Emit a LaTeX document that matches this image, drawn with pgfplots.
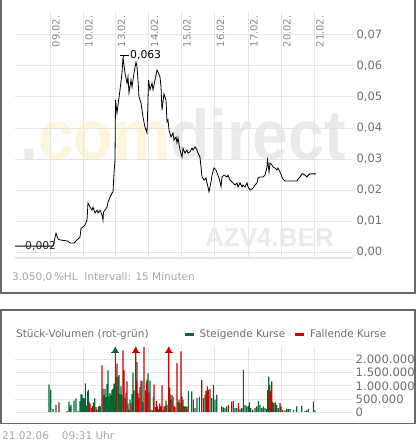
\documentclass[border=0pt]{standalone}
\usepackage{pgfplots}
\usepackage{pgfplotstable}
\pgfplotsset{compat=1.18}
\usepackage{fontspec}
\setmainfont{DejaVu Sans}
\newfontfamily\wmfont{Liberation Sans}
\definecolor{gridc}{RGB}{229,229,229}
\definecolor{framec}{RGB}{105,105,105}
\definecolor{txtgray}{RGB}{110,110,110}
\definecolor{ltgray}{RGB}{165,165,165}
\definecolor{datec}{RGB}{135,135,135}
\definecolor{wmyellow}{RGB}{255,245,220}
\definecolor{wmgray}{RGB}{234,234,234}
\definecolor{volgreen}{RGB}{0,104,52}
\definecolor{volred}{RGB}{204,0,0}

\pgfplotstableread{
t p
15 0.0019
53 0.0019
54 0.0032
56 0.0061
58 0.0042
60 0.0039
68 0.0035
70 0.0029
74 0.0029
77 0.0039
80 0.0048
81 0.0077
83 0.0081
85 0.0087
87 0.0103
88 0.0158
90 0.0145
92 0.0135
93 0.0145
95 0.0126
97 0.0135
98 0.0126
100 0.0135
102 0.0119
103 0.0103
103.5 0.0129
105 0.0135
107 0.0145
108 0.0161
110 0.0177
112 0.0190
113 0.0194
114 0.0255
115 0.0297
115.5 0.0490
117 0.0448
118 0.0474
120 0.0523
122 0.0577
123 0.0629
125 0.0577
127 0.0545
128 0.0565
129 0.0513
131 0.0555
132 0.0532
134 0.0577
136 0.0613
137 0.0597
138 0.0555
139 0.0500
141 0.0481
143 0.0435
145 0.0403
147 0.0384
148 0.0490
148.5 0.0555
150 0.0523
152 0.0545
153 0.0523
155 0.0555
157 0.0587
158 0.0581
160 0.0565
161 0.0532
162 0.0458
164 0.0510
166 0.0490
167 0.0420
168 0.0426
169 0.0394
171 0.0371
173 0.0384
174 0.0361
176 0.0371
177 0.0352
178 0.0368
180 0.0329
182 0.0306
183 0.0335
185 0.0319
187 0.0329
188 0.0319
190 0.0323
192 0.0335
193 0.0329
195 0.0339
197 0.0329
198 0.0319
200 0.0306
201 0.0274
202 0.0242
204 0.0232
206 0.0239
207 0.0223
208 0.0210
209 0.0194
211 0.0226
212 0.0248
214 0.0271
216 0.0265
217 0.0255
219 0.0239
220 0.0226
221 0.0210
222 0.0242
224 0.0248
227 0.0242
228 0.0248
230 0.0232
233 0.0223
235 0.0216
237 0.0223
238 0.0210
240 0.0223
242 0.0210
243 0.0216
245 0.0210
247 0.0223
248 0.0210
250 0.0200
252 0.0203
253 0.0206
255 0.0216
257 0.0223
258 0.0239
260 0.0242
263 0.0242
265 0.0248
267 0.0274
267.5 0.0297
268 0.0287
269 0.0258
270 0.0287
272 0.0281
273 0.0274
275 0.0271
277 0.0265
278 0.0271
280 0.0258
282 0.0242
283 0.0235
285 0.0229
297 0.0229
298 0.0235
300 0.0242
302 0.0252
303 0.0252
305 0.0248
307 0.0242
308 0.0248
310 0.0252
312 0.0252
316 0.0252
}\pricetab

\pgfplotstableread{
t v
49 1050000
50.7 850000
53 140000
56 290000
67 50000
69 410000
70 200000
71 300000
74 450000
76 530000
78 50000
80 430000
81 680000
82 680000
83.3 540000
84.3 530000
85.3 1090000
86.3 260000
87.3 790000
88.3 850000
91.3 160000
93.7 380000
94.7 530000
98.3 230000
99.3 250000
100.3 230000
103 900000
104 660000
105 890000
106 580000
107 1070000
108 1580000
109 600000
110 730000
111 660000
112 850000
113 900000
114 1080000
115.3 3000000
116.3 1330000
118 1350000
119 1400000
120 690000
121 980000
122 660000
125 530000
126 740000
128 330000
129 110000
130 480000
132 700000
133 1500000
134 830000
137 1890000
140 950000
142 1190000
143 390000
145.3 830000
147 1230000
148 1470000
150 1200000
152.3 80000
153.3 580000
155.3 200000
157.3 260000
158.3 140000
163 100000
165 240000
166 450000
167 290000
170 700000
171 480000
173 580000
178 390000
179 480000
180 360000
183 480000
184 240000
185 200000
188.3 810000
191.7 790000
195 160000
197 540000
199.3 600000
203.3 540000
205 660000
210 890000
211.7 540000
215 480000
216.7 660000
221.7 230000
223.3 190000
225 160000
226.7 230000
233.3 440000
235 160000
236.7 160000
240 140000
241.7 160000
243.3 1600000
245 290000
246.7 230000
248.3 260000
250.7 160000
252.7 100000
256.7 230000
258.3 440000
260 290000
261.7 160000
263.3 230000
265 160000
266.7 140000
268.7 1350000
269.7 1040000
272.7 410000
274 350000
276.7 290000
278.3 160000
282.7 100000
286.7 140000
288.3 130000
290 140000
293.3 100000
296.7 230000
301.7 250000
305 60000
306.7 80000
308.3 140000
313.3 410000
315 80000
}\greentab

\pgfplotstableread{
t v
58 30000
59 380000
89 390000
90 330000
92.3 240000
96 200000
97 110000
102 1770000
117 1840000
123 2330000
124 1580000
127 1170000
131 350000
135.7 3000000
136.7 1200000
138 740000
139 550000
141 1200000
144 2460000
146.3 1140000
149 760000
151 110000
154 1050000
156.3 430000
159.7 330000
160.7 230000
162 1020000
164 230000
168.7 3000000
169.7 930000
172 650000
174 240000
175 200000
177 1850000
181 2300000
182 600000
186 240000
187 200000
193.3 480000
201.7 1230000
206 810000
207.3 980000
208.3 850000
213.3 1040000
228.3 290000
231.7 410000
238.3 350000
249.3 390000
255 160000
267.7 850000
270.7 810000
271.7 1170000
275.3 380000
280 350000
281 230000
285 80000
}\redtab

\begin{document}
\begin{tikzpicture}[x=1pt,y=1pt]
\path[use as bounding box] (0,0) rectangle (417,-443);
% watermark
\node[anchor=base west, inner sep=0pt, xscale=0.92] at (20,-160)
  {\wmfont\bfseries\fontsize{70}{70}\selectfont\textcolor{wmgray}{.}\textcolor{wmyellow}{com}\textcolor{wmgray}{direct}};
\node[anchor=base west, inner sep=0pt] at (205,-246)
  {\wmfont\bfseries\fontsize{26}{26}\selectfont\textcolor{wmgray}{AZV4.BER}};

\begin{axis}[
  at={(15pt,-258pt)}, anchor=south west,
  width=338pt, height=246pt, scale only axis,
  xmin=15, xmax=353, ymin=-0.001935, ymax=0.07742,
  scaled ticks=false,
  axis line style={draw=none},
  major tick length=0pt,
  grid=major, major grid style={gridc, line width=1pt},
  xtick={50,83,115.5,148.5,181,214.5,248,281,314},
  xticklabels={09.02.,10.02.,13.02.,14.02.,15.02.,16.02.,17.02.,20.02.,21.02.},
  xticklabel pos=upper,
  xticklabel style={xshift=6pt, rotate=90, anchor=east, font=\fontsize{10}{10}\selectfont, color=datec},
  ytick={0,0.01,0.02,0.03,0.04,0.05,0.06,0.07},
  yticklabels={{0,00},{0,01},{0,02},{0,03},{0,04},{0,05},{0,06},{0,07}},
  yticklabel pos=right,
  yticklabel style={anchor=west, font=\fontsize{11.5}{12}\selectfont, color=txtgray},
]
\addplot[black, line width=0.8pt, mark=none] table[x=t, y=p] {\pricetab};
\draw[gridc, line width=1.6pt] (rel axis cs:0,0) -- (rel axis cs:1,0);
\draw[gridc, line width=1pt] (rel axis cs:1,0) -- (rel axis cs:1,1);
\draw[black, line width=0.8pt] (axis cs:120,0.0634) -- (axis cs:129,0.0634);
\draw[black, line width=0.8pt] (axis cs:123,0.0634) -- (axis cs:123,0.0629);
\node[anchor=west, inner sep=0pt, font=\fontsize{10.8}{11}\selectfont] at (axis cs:130,0.0634) {0,063};
\node[anchor=west, inner sep=0pt, font=\fontsize{10.8}{11}\selectfont, text=black!85] at (axis cs:25,0.0019) {0,002};
\end{axis}

\begin{axis}[
  at={(15pt,-412.5pt)}, anchor=south west,
  width=338pt, height=65.5pt, scale only axis,
  xmin=15, xmax=353, ymin=0, ymax=2460000,
  scaled ticks=false,
  axis line style={draw=none},
  major tick length=0pt,
  grid=major, major grid style={gridc, line width=1pt},
  xtick={50,83,115.5,148.5,181,214.5,248,281,314},
  xticklabels={},
  ytick={0,500000,1000000,1500000,2000000},
  yticklabels={0,500.000,1.000.000,1.500.000,2.000.000},
  yticklabel pos=right,
  yticklabel style={anchor=west, inner sep=2.5pt, font=\fontsize{11.6}{12}\selectfont, color=txtgray},
  ybar, bar width=1.1, bar shift=0pt,
]
\addplot[fill=volgreen, draw=none] table[x=t, y=v] {\greentab};
\addplot[fill=volred, draw=none] table[x=t, y=v] {\redtab};
\addplot[only marks, mark=triangle*, mark size=3.2pt, color=volgreen] coordinates {(115.3,2330000)};
\addplot[only marks, mark=-, mark size=4pt, line width=1.6pt, color=volgreen] coordinates {(115.3,2260000)};
\addplot[only marks, mark=triangle*, mark size=3.2pt, color=volred] coordinates {(135.7,2330000) (168.7,2330000)};
\addplot[only marks, mark=-, mark size=4pt, line width=1.6pt, color=volred] coordinates {(135.7,2260000) (168.7,2260000)};
\draw[gridc, line width=2pt] (rel axis cs:0,0) -- (rel axis cs:1,0);
\draw[gridc, line width=1pt] (rel axis cs:1,0) -- (rel axis cs:1,1);
\end{axis}

% frames
\draw[framec, line width=1.6pt] (0.8,0) -- (0.8,-293.2) -- (415.2,-293.2) -- (415.2,0);
\draw[framec, line width=1.6pt] (0.8,-310) rectangle (415.2,-423.3);

% texts
\node[anchor=base west, inner sep=0pt, text=ltgray, font=\fontsize{10.5}{11}\selectfont] at (12,-280.3) {3.050,0\,\%HL\ \ Intervall: 15 Minuten};
\node[anchor=base west, inner sep=0pt, text=txtgray, font=\fontsize{10.5}{11}\selectfont] at (16,-337.8) {Stück-Volumen (rot-grün)};
\fill[volgreen] (185,-332.6) rectangle (194,-336);
\node[anchor=base west, inner sep=0pt, text=txtgray, font=\fontsize{10.5}{11}\selectfont] at (199.5,-337.8) {Steigende Kurse};
\fill[volred] (295,-332.6) rectangle (304,-336);
\node[anchor=base west, inner sep=0pt, text=txtgray, font=\fontsize{10.5}{11}\selectfont] at (310,-337.8) {Fallende Kurse};
\node[anchor=base west, inner sep=0pt, text=ltgray, font=\fontsize{10.5}{11}\selectfont] at (2,-439.5) {21.02.06\hspace{13pt}09:31 Uhr};
\end{tikzpicture}
\end{document}
